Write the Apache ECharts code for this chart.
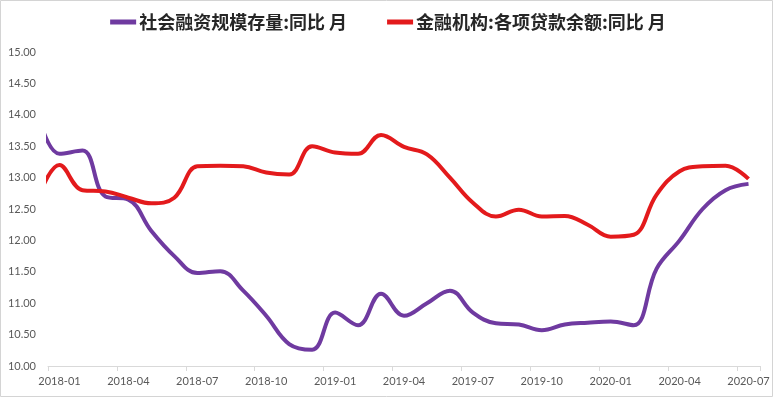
<!DOCTYPE html>
<html>
<head>
<meta charset="utf-8">
<script src="https://cdn.jsdelivr.net/npm/echarts@6/dist/echarts.min.js"></script>
<style>
html,body{margin:0;padding:0;background:#fff;}
#c{width:776px;height:399px;}
</style>
</head>
<body>
<div id="c"></div>
<script>
// Months of data (first entry precedes the visible axis range and is clipped at the left edge)
const months = ["2017-12","2018-01","2018-02","2018-03","2018-04","2018-05","2018-06","2018-07","2018-08","2018-09","2018-10","2018-11","2018-12",
  "2019-01","2019-02","2019-03","2019-04","2019-05","2019-06","2019-07","2019-08","2019-09","2019-10","2019-11","2019-12",
  "2020-01","2020-02","2020-03","2020-04","2020-05","2020-06","2020-07"];
const categories = months.slice(1);
const seriesNames = ["社会融资规模存量:同比 月", "金融机构:各项贷款余额:同比 月"];
const socialFinancing = [14.1,13.38,13.43,12.7,12.65,12.15,11.75,11.48,11.51,11.2,10.8,10.35,10.26,
  10.85,10.65,11.15,10.8,11.0,11.2,10.85,10.68,10.66,10.57,10.66,10.69,
  10.71,10.65,11.55,12.0,12.5,12.8,12.9];
const loans = [12.6,13.2,12.8,12.78,12.68,12.59,12.68,13.18,13.19,13.18,13.08,13.05,13.5,
  13.4,13.38,13.68,13.49,13.37,13.0,12.6,12.38,12.49,12.38,12.39,12.25,
  12.06,12.09,12.73,13.1,13.18,13.19,12.98];
const yMin = 10, yMax = 15, yStep = 0.5;

function toPoints(arr){ return arr.map((v,i)=>[i-1, v]); }

const chart = echarts.init(document.getElementById('c'), null, {renderer:'canvas'});
chart.setOption({
  animation:false,
  backgroundColor:'#fff',
  graphic:[{type:'rect', shape:{x:0.5,y:0.5,width:772,height:396}, style:{fill:'none', stroke:'#d4d4d4', lineWidth:1}, silent:true, z:-1}],
  legend:{
    top:8, left:'center',
    icon:'rect', itemWidth:26, itemHeight:5, itemGap:40,
    textStyle:{fontFamily:'"Noto Sans CJK SC"', fontSize:18, fontWeight:'bold', color:'#262626', padding:[0,0,0,-2]},
    data:seriesNames
  },
  grid:{left:48, right:16, top:52, bottom:33, containLabel:false},
  xAxis:[{
    type:'category', data:categories, boundaryGap:true,
    axisLine:{show:true, lineStyle:{color:'#d9d9d9', width:1}},
    axisTick:{show:true, interval:2, length:5, lineStyle:{color:'#d9d9d9'}},
    axisLabel:{interval:2, color:'#595959', fontSize:11, fontFamily:'Lato', margin:10},
    splitLine:{show:false}
  },{
    type:'value', min:-0.5, max:categories.length-0.5, show:false
  }],
  yAxis:{
    type:'value', min:yMin, max:yMax, interval:yStep,
    axisLine:{show:false}, axisTick:{show:false}, splitLine:{show:false},
    axisLabel:{color:'#595959', fontSize:11, fontFamily:'Lato', margin:12, formatter:v=>v.toFixed(2)}
  },
  series:[{
    name:seriesNames[0], type:'line', xAxisIndex:1, data:toPoints(socialFinancing),
    smooth:0.4, showSymbol:false, clip:true,
    lineStyle:{color:'#6F3AA0', width:4}, itemStyle:{color:'#6F3AA0'}
  },{
    name:seriesNames[1], type:'line', xAxisIndex:1, data:toPoints(loans),
    smooth:0.4, showSymbol:false, clip:true,
    lineStyle:{color:'#E31A1C', width:4}, itemStyle:{color:'#E31A1C'}
  }]
});
</script>
</body>
</html>
